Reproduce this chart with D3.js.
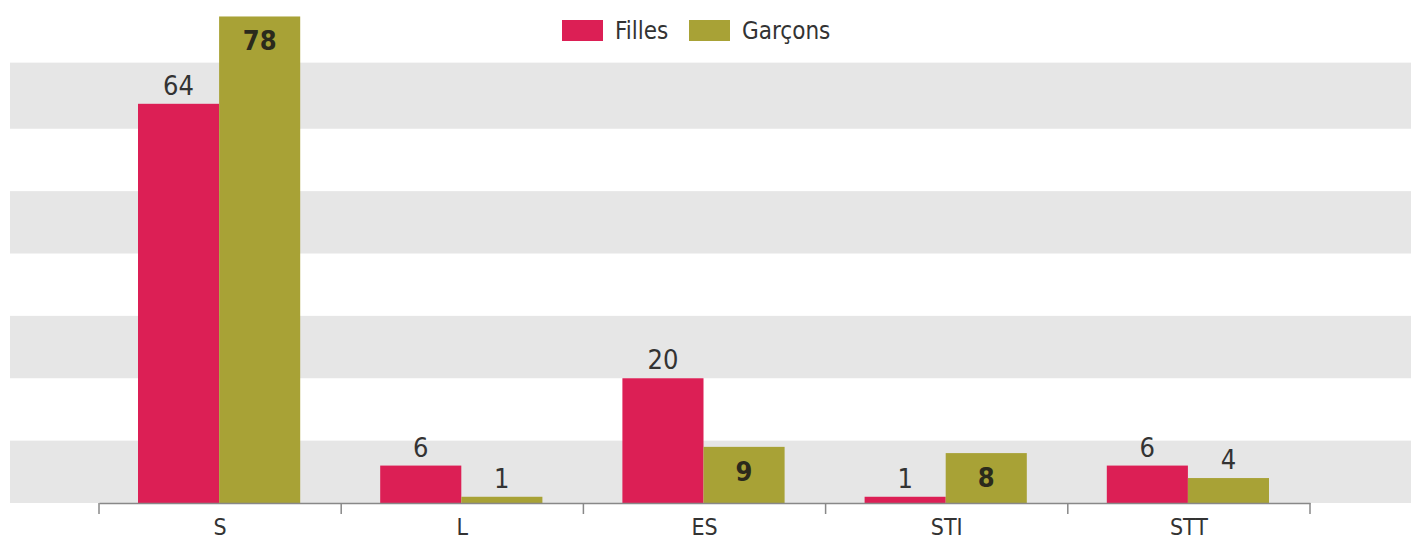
<!DOCTYPE html>
<html>
<head>
<meta charset="utf-8">
<script src="https://cdn.jsdelivr.net/npm/d3@7"></script>
<style>
  body { margin: 0; background: #fff; }
  text { font-family: "Liberation Sans Narrow", "DejaVu Sans Condensed", sans-serif; }
</style>
</head>
<body>
<script>
// data
const categories = ["S", "L", "ES", "STI", "STT"];
const series = ["Filles", "Garçons"];
const filles = [64, 6, 20, 1, 6];
const garcons = [78, 1, 9, 8, 4];
const bands = [[0, 10], [20, 30], [40, 50], [60, 70.6]];

const colors = { "Filles": "#dc1f55", "Garçons": "#a8a236" };

const w = 1411;
const h = 541;

const svg = d3.select("body")
  .append("svg")
  .attr("width", w)
  .attr("height", h);

const yScale = d3.scaleLinear()
  .domain([0, 80])
  .range([503, 4]);

const x0 = d3.scaleBand()
  .domain(categories)
  .range([99, 1310]);

const x1 = d3.scaleBand()
  .domain(series)
  .range([39, x0.bandwidth() - 41]);

// grey stripes
svg.selectAll("rect.band")
  .data(bands)
  .enter()
  .append("rect")
  .attr("class", "band")
  .attr("x", 10)
  .attr("width", w - 10)
  .attr("y", (d) => yScale(d[1]))
  .attr("height", (d) => yScale(d[0]) - yScale(d[1]))
  .attr("fill", "#e6e6e6");

const rows = categories.map((c, i) => ({ cat: c, values: [
  { key: "Filles", v: filles[i] },
  { key: "Garçons", v: garcons[i] }
]}));

const groups = svg.selectAll("g.cat")
  .data(rows)
  .enter()
  .append("g")
  .attr("class", "cat")
  .attr("transform", (d) => "translate(" + x0(d.cat) + ",0)");

groups.selectAll("rect")
  .data((d) => d.values)
  .enter()
  .append("rect")
  .attr("x", (d) => x1(d.key))
  .attr("width", x1.bandwidth())
  .attr("y", (d) => yScale(d.v))
  .attr("height", (d) => yScale(0) - yScale(d.v))
  .attr("fill", (d) => colors[d.key]);

// value labels: garcons inside the bar when tall enough
const inside = (d) => d.key === "Garçons" && d.v >= 8;

groups.selectAll("text")
  .data((d) => d.values)
  .enter()
  .append("text")
  .text((d) => d.v)
  .attr("text-anchor", "middle")
  .attr("x", (d) => x1(d.key) + x1.bandwidth() / 2)
  .attr("y", (d) => inside(d) ? yScale(d.v) + 34 : yScale(d.v) - 9)
  .attr("font-size", 27)
  .attr("font-weight", (d) => inside(d) ? "bold" : "normal")
  .attr("fill", (d) => inside(d) ? "#2b2a1c" : "#333");

// axis
const xAxis = d3.axisBottom(x0).tickSize(0).tickPadding(0);
const ax = svg.append("g")
  .attr("transform", "translate(0,503)")
  .call(xAxis);
ax.select(".domain").attr("stroke", "#888").attr("stroke-width", 1.5);
ax.selectAll(".tick text")
  .attr("y", 32)
  .attr("dy", null)
  .attr("font-size", 23)
  .attr("font-family", null)
  .attr("fill", "#333");

const edges = categories.map((c) => x0(c)).concat([x0.range()[1]]);
ax.selectAll("line.sep")
  .data(edges)
  .enter()
  .append("line")
  .attr("class", "sep")
  .attr("x1", (d) => d)
  .attr("x2", (d) => d)
  .attr("y1", 0)
  .attr("y2", 11)
  .attr("stroke", "#888")
  .attr("stroke-width", 1.5);

// legend
const legend = svg.append("g");
const legX = [562, 689];
series.forEach((s, i) => {
  legend.append("rect")
    .attr("x", legX[i])
    .attr("y", 20)
    .attr("width", 41)
    .attr("height", 21)
    .attr("fill", colors[s]);
  legend.append("text")
    .attr("x", legX[i] + 53)
    .attr("y", 39)
    .attr("font-size", 24)
    .attr("fill", "#333")
    .text(s);
});
</script>
</body>
</html>
